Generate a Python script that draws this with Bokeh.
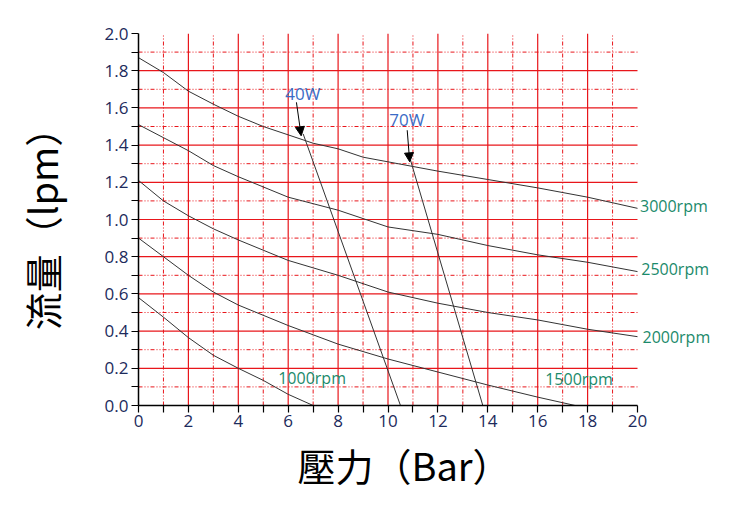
from bokeh.plotting import figure
from bokeh.models import Range1d, FixedTicker, Label, Arrow, NormalHead, PrintfTickFormatter, Title
from bokeh.embed import file_html
from bokeh.resources import INLINE

# ---- data ----
x3000 = [0, 1, 2, 3, 4, 5, 6, 7, 8, 9, 10, 12, 14, 16, 18, 20]
y3000 = [1.87, 1.79, 1.69, 1.62, 1.555, 1.50, 1.455, 1.41, 1.38, 1.335, 1.31, 1.26, 1.215, 1.17, 1.12, 1.06]
x2500 = [0, 1, 2, 3, 4, 6, 8, 10, 12, 14, 16, 18, 20]
y2500 = [1.51, 1.44, 1.37, 1.29, 1.23, 1.12, 1.05, 0.96, 0.92, 0.86, 0.81, 0.77, 0.72]
x2000 = [0, 1, 2, 3, 4, 6, 8, 10, 12, 14, 16, 18, 20]
y2000 = [1.21, 1.10, 1.02, 0.95, 0.89, 0.78, 0.70, 0.61, 0.55, 0.50, 0.46, 0.41, 0.37]
x1500 = [0, 1, 2, 3, 4, 6, 8, 10, 12, 14, 16, 17.5]
y1500 = [0.90, 0.80, 0.70, 0.61, 0.54, 0.43, 0.33, 0.25, 0.18, 0.11, 0.045, 0.0]
x1000 = [0, 1, 2, 3, 4, 5, 6, 7]
y1000 = [0.58, 0.475, 0.365, 0.27, 0.20, 0.135, 0.06, 0.0]
x40w = [6.6, 10.5]
y40w = [1.46, 0.0]
x70w = [10.9, 13.8]
y70w = [1.32, 0.0]

x_major = [0, 2, 4, 6, 8, 10, 12, 14, 16, 18, 20]
x_minor = [1, 3, 5, 7, 9, 11, 13, 15, 17, 19]
y_major = [0.0, 0.2, 0.4, 0.6, 0.8, 1.0, 1.2, 1.4, 1.6, 1.8, 2.0]
y_minor = [0.1, 0.3, 0.5, 0.7, 0.9, 1.1, 1.3, 1.5, 1.7, 1.9]

RED = "#e8161b"
LINE = "#333333"
GREEN = "#1b8a6b"
BLUE = "#3b6cc6"
TICKC = "#1d2b5c"
FONT = "Open Sans"
CJK = "Noto Sans CJK TC"

X_MAX = x_major[-1]
Y_MAX = y_major[-1]
# frame is extended to the right so the rpm labels fit; axis & grid stop at X_MAX
X_VIEW = X_MAX + 85 / 24.95

p = figure(width=730, height=502, output_backend="svg", toolbar_location=None,
           x_range=Range1d(0, X_VIEW), y_range=Range1d(0, Y_MAX),
           min_border_left=138, min_border_right=8, min_border_top=33, min_border_bottom=97)
p.outline_line_color = None
p.background_fill_color = "white"
p.border_fill_color = "white"

p.xaxis.ticker = FixedTicker(ticks=x_major, minor_ticks=x_minor)
p.yaxis.ticker = FixedTicker(ticks=y_major, minor_ticks=y_minor)
p.yaxis.formatter = PrintfTickFormatter(format="%.1f")
p.xaxis.bounds = (0, X_MAX)

for ax in (p.xaxis, p.yaxis):
    ax.axis_line_color = "black"
    ax.axis_line_width = 1.5
    ax.major_tick_line_color = "black"
    ax.minor_tick_line_color = "black"
    ax.major_tick_line_width = 1.2
    ax.minor_tick_line_width = 1.2
    ax.major_tick_in = 0
    ax.minor_tick_in = 0
    ax.major_tick_out = 7
    ax.minor_tick_out = 7
    ax.major_label_text_font = FONT
    ax.major_label_text_font_size = "17px"
    ax.major_label_text_color = TICKC
    ax.axis_label_text_font = CJK
    ax.axis_label_text_font_size = "38px"
    ax.axis_label_text_font_style = "normal"
    ax.axis_label_text_color = "black"

p.xaxis.major_label_standoff = 2
p.yaxis.major_label_standoff = 3
p.yaxis.axis_label = "流量（lpm）"
p.yaxis.axis_label_standoff = 33

# x title placed under the 0..20 axis span (frame extends further right)
p.add_layout(Title(text="壓力（Bar）", align="left", offset=159, standoff=10,
                   text_font=CJK, text_font_size="38px", text_font_style="normal",
                   text_color="black"), "below")

# built-in grids off; grid drawn from the tick arrays, limited to the axis span
p.xgrid.visible = False
p.ygrid.visible = False
vx_major = x_major[1:-1]
vx_minor = x_minor
hy_major = y_major[1:-1]
hy_minor = y_minor
p.segment(x0=vx_major, x1=vx_major, y0=[0] * len(vx_major), y1=[Y_MAX] * len(vx_major),
          line_color=RED, line_width=1.2)
p.segment(x0=vx_minor, x1=vx_minor, y0=[0] * len(vx_minor), y1=[Y_MAX] * len(vx_minor),
          line_color=RED, line_width=1, line_dash="4 2 1 2 1 2")
p.segment(x0=[0] * len(hy_major), x1=[X_MAX] * len(hy_major), y0=hy_major, y1=hy_major,
          line_color=RED, line_width=1.2)
p.segment(x0=[0] * len(hy_minor), x1=[X_MAX] * len(hy_minor), y0=hy_minor, y1=hy_minor,
          line_color=RED, line_width=1, line_dash="4 2 1 2 1 2")

for xs, ys in [(x3000, y3000), (x2500, y2500), (x2000, y2000), (x1500, y1500),
               (x1000, y1000), (x40w, y40w), (x70w, y70w)]:
    p.line(xs, ys, line_color=LINE, line_width=1)

def lab(x, y, t, c, size="16px"):
    p.add_layout(Label(x=x, y=y, text=t, text_color=c, text_font=FONT,
                       text_font_size=size, text_baseline="middle", text_align="left"))

lab(20.1, 1.075, "3000rpm", GREEN)
lab(20.15, 0.735, "2500rpm", GREEN)
lab(20.2, 0.37, "2000rpm", GREEN)
lab(5.6, 0.15, "1000rpm", GREEN)
lab(16.3, 0.145, "1500rpm", GREEN)
lab(5.88, 1.68, "40W", BLUE, "17px")
lab(10.05, 1.54, "70W", BLUE, "17px")

p.add_layout(Arrow(x_start=6.33, y_start=1.63, x_end=6.52, y_end=1.45, line_color="black", line_width=1,
                   end=NormalHead(size=9, fill_color="black", line_color="black", line_width=1)))
p.add_layout(Arrow(x_start=10.77, y_start=1.48, x_end=10.87, y_end=1.31, line_color="black", line_width=1,
                   end=NormalHead(size=9, fill_color="black", line_color="black", line_width=1)))

open("out.html", "w").write(file_html(p, INLINE))
